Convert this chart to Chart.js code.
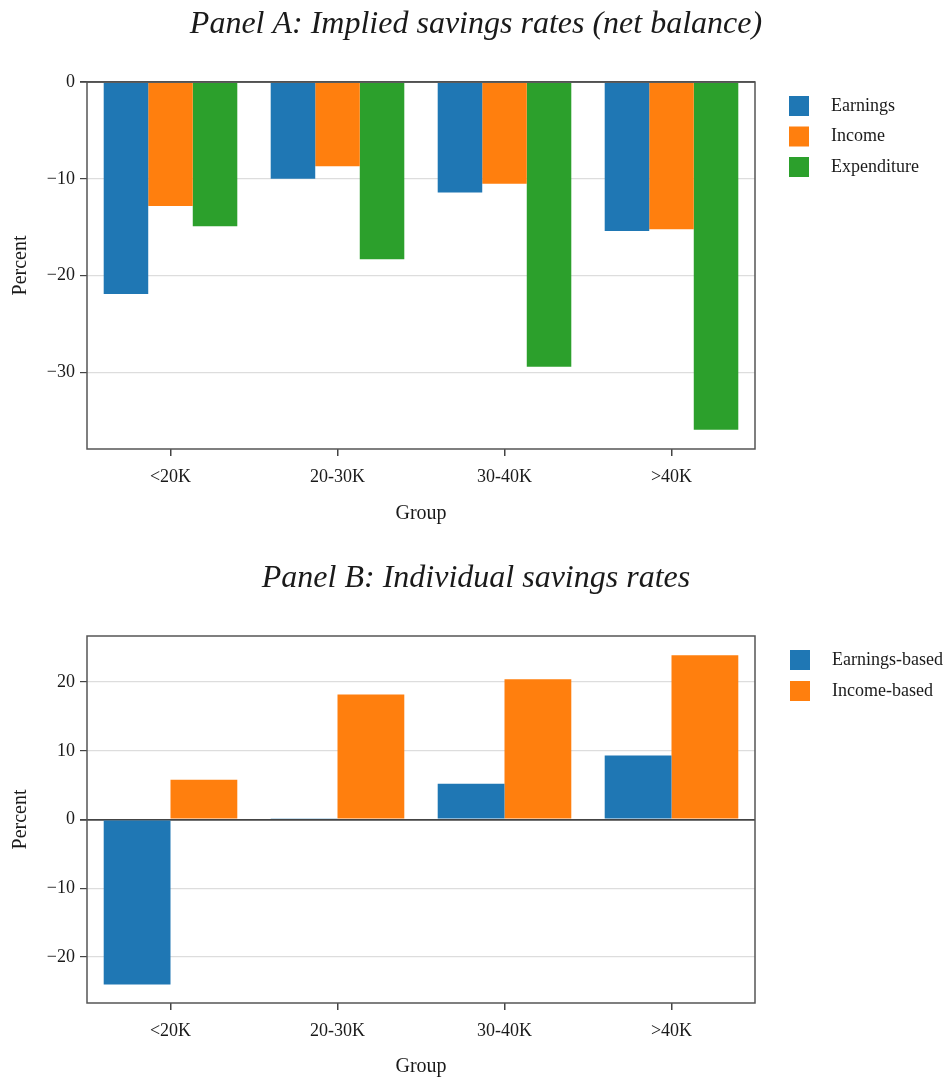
<!DOCTYPE html>
<html>
<head>
<title>Savings rates</title>
<script src="https://cdn.jsdelivr.net/npm/chart.js"></script>
<style>
  body { margin: 0; background: #fff; }
  canvas { position: absolute; left: 0; }
</style>
</head>
<body>
<canvas id="panelA" width="952" height="540" style="top:0"></canvas>
<canvas id="panelB" width="952" height="540" style="top:540px"></canvas>
<script>
// data
const groups = ['<20K', '20-30K', '30-40K', '>40K'];
const earningsA = [-21.9, -10.0, -11.4, -15.4];
const incomeA = [-12.8, -8.7, -10.5, -15.2];
const expenditureA = [-14.9, -18.3, -29.4, -35.9];
const earningsB = [-24.0, 0.1, 5.2, 9.3];
const incomeB = [5.8, 18.2, 20.4, 23.9];
const yTicksA = [0, -10, -20, -30];
const yTicksB = [-20, -10, 0, 10, 20];

const BLUE = '#1f77b4', ORANGE = '#ff7f0e', GREEN = '#2ca02c';
const SERIF = '"Liberation Serif", "Times New Roman", serif';
const INK = '#1a1a1a';
const minus = v => v < 0 ? '\u2212' + Math.abs(v) : String(v);

const framePlugin = {
  id: 'frame',
  afterDatasetsDraw(chart) {
    const a = chart.chartArea, c = chart.ctx;
    c.save();
    c.strokeStyle = '#555';
    c.lineWidth = 1.5;
    c.strokeRect(a.left, a.top, a.right - a.left, a.bottom - a.top);
    c.restore();
  }
};

const sideLegend = {
  id: 'sideLegend',
  afterDraw(chart, args, opts) {
    const c = chart.ctx;
    c.save();
    c.font = '18px ' + SERIF;
    c.textBaseline = 'middle';
    chart.data.datasets.forEach((ds, i) => {
      const y = opts.y + i * opts.step;
      c.fillStyle = ds.backgroundColor;
      c.fillRect(opts.x, y, 20, 20);
      c.fillStyle = INK;
      c.fillText(ds.label, opts.x + 42, y + 10);
    });
    c.restore();
  }
};

function makePanel(id, title, datasets, p) {
  return new Chart(document.getElementById(id), {
    type: 'bar',
    data: {
      labels: groups,
      datasets: datasets.map(d => ({
        label: d[0], data: d[1], backgroundColor: d[2],
        borderWidth: 0, categoryPercentage: 0.8, barPercentage: 1.0
      }))
    },
    options: {
      responsive: false,
      animation: false,
      devicePixelRatio: 1,
      layout: { padding: 0 },
      plugins: {
        legend: { display: false },
        tooltip: { enabled: false },
        title: {
          display: true, text: title, color: INK,
          font: { family: SERIF, size: 32, style: 'italic', weight: 'normal' },
          padding: p.titlePad
        },
        sideLegend: p.legend
      },
      scales: {
        x: {
          afterFit(s) { s.height = p.xHeight; },
          grid: { offset: false, drawOnChartArea: false, tickLength: 7, color: '#444', lineWidth: 1.5 },
          border: { display: false },
          ticks: { font: { family: SERIF, size: 18 }, color: INK, padding: 10, maxRotation: 0 },
          title: {
            display: true, text: 'Group', color: INK,
            font: { family: SERIF, size: 20 },
            padding: { top: 0, bottom: p.groupPad }
          }
        },
        y: {
          min: p.min, max: p.max,
          afterFit(s) { s.width = 87; },
          afterBuildTicks(s) { s.ticks = p.ticks.map(v => ({ value: v })); },
          grid: {
            color: ctx => ctx.tick && ctx.tick.value === 0 ? '#444' : '#dddddd',
            lineWidth: ctx => ctx.tick && ctx.tick.value === 0 ? 1.8 : 1.2,
            tickColor: '#444', tickLength: 7
          },
          border: { display: false },
          ticks: { callback: minus, font: { family: SERIF, size: 18 }, color: INK, padding: 5 },
          title: {
            display: true, text: 'Percent', color: INK,
            font: { family: SERIF, size: 20 },
            padding: { top: 9, bottom: 0 }
          }
        },
        // empty right-hand axis that only reserves room for the legend
        side: {
          position: 'right', axis: 'y',
          afterFit(s) { s.width = 197; },
          grid: { display: false },
          border: { display: false },
          ticks: { display: false }
        }
      }
    },
    plugins: [framePlugin, sideLegend]
  });
}

makePanel('panelA', 'Panel A: Implied savings rates (net balance)', [
  ['Earnings', earningsA, BLUE],
  ['Income', incomeA, ORANGE],
  ['Expenditure', expenditureA, GREEN]
], {
  min: -37.9, max: 0, ticks: yTicksA,
  titlePad: { top: 5, bottom: 38.6 },
  xHeight: 91, groupPad: 14,
  legend: { x: 789, y: 96, step: 30.5 }
});

makePanel('panelB', 'Panel B: Individual savings rates', [
  ['Earnings-based', earningsB, BLUE],
  ['Income-based', incomeB, ORANGE]
], {
  min: -26.7, max: 26.7, ticks: yTicksB,
  titlePad: { top: 19, bottom: 38.6 },
  xHeight: 77, groupPad: 1,
  legend: { x: 790, y: 110, step: 31 }
});
</script>
</body>
</html>
